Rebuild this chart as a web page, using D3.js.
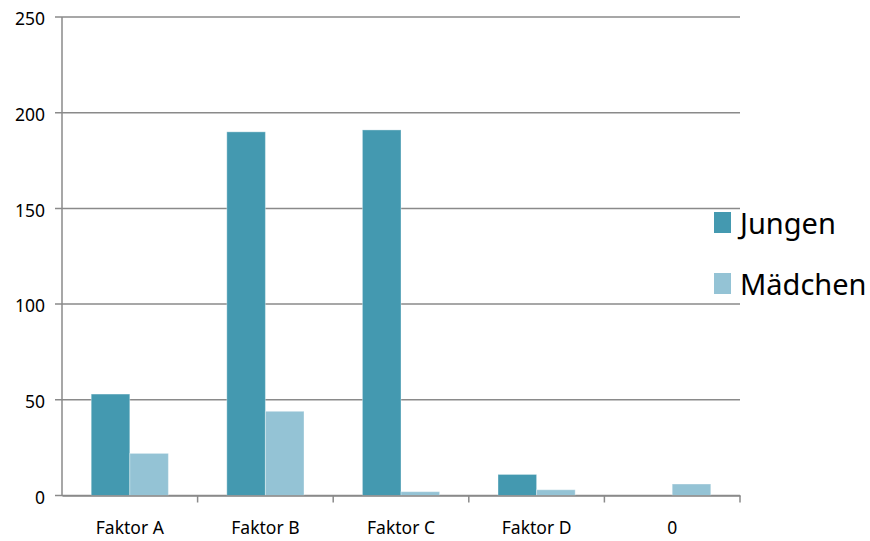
<!DOCTYPE html>
<html>
<head>
<meta charset="utf-8">
<script src="https://cdn.jsdelivr.net/npm/d3@7"></script>
<style>
	body { margin: 0; background: #fff; }
	svg { font-family: "Noto Sans", sans-serif; }
</style>
</head>
<body>
<div id="chart"></div>
<script>
const categories = ["Faktor A", "Faktor B", "Faktor C", "Faktor D", "0"];
const seriesNames = ["Jungen", "Mädchen"];
const jungen = [53, 190, 191, 11, 0];
const maedchen = [22, 44, 2, 3, 6];
const yTicks = [0, 50, 100, 150, 200, 250];

const colors = {Jungen: "#4499b0", "Mädchen": "#94c3d5"};

// container size
const margin = {
	top: 17, right: 130, bottom: 45.5, left: 62
};
const totalWidth = 870;
const totalHeight = 541;
const width = totalWidth - margin.left - margin.right;
const height = totalHeight - margin.top - margin.bottom;

const rows = categories.map((c, i) => ({name: c, Jungen: jungen[i], "Mädchen": maedchen[i]}));

/* eslint-disable indent */
const svg = d3.select("#chart")
	.append("svg")
		.attr("width", totalWidth)
		.attr("height", totalHeight)
	.append("g")
		.attr("transform", `translate(${margin.left},${margin.top})`);

// scales
const x0 = d3.scaleBand()
	.domain(categories)
	.range([0, width]);
const x1 = d3.scaleBand()
	.domain(seriesNames)
	.range([0, x0.bandwidth()])
	.paddingOuter(0.757);
const y = d3.scaleLinear()
	.domain([0, 250])
	.range([height, 0]);

// gridlines
svg.append("g")
	.selectAll("line")
	.data(yTicks)
	.join("line")
		.attr("x1", -7)
		.attr("x2", width)
		.attr("y1", d => y(d))
		.attr("y2", d => y(d))
		.attr("stroke", "#8a8a8a")
		.attr("stroke-width", 1.5);

// y axis line + labels
svg.append("line")
	.attr("x1", 0)
	.attr("x2", 0)
	.attr("y1", 0)
	.attr("y2", height)
	.attr("stroke", "#8a8a8a")
	.attr("stroke-width", 1.5);
svg.append("g")
	.selectAll("text")
	.data(yTicks)
	.join("text")
		.attr("x", -17)
		.attr("y", d => y(d) + 2)
		.attr("dy", "0.35em")
		.attr("text-anchor", "end")
		.attr("font-size", "17.5px")
		.attr("fill", "#000")
		.text(d => d);

// bars
svg.append("g")
	.selectAll("g")
	.data(rows)
	.join("g")
		.attr("transform", d => `translate(${x0(d.name)},0)`)
	.selectAll("rect")
	.data(d => seriesNames.map(k => ({key: k, value: d[k]})))
	.join("rect")
		.attr("x", d => x1(d.key))
		.attr("y", d => y(d.value))
		.attr("width", x1.bandwidth())
		.attr("height", d => height - y(d.value))
		.attr("fill", d => colors[d.key])
		.attr("stroke", "rgba(255,255,255,0.35)")
		.attr("stroke-width", 1);

// x axis
svg.append("g")
		.attr("transform", `translate(0,${height})`)
		.call(d3.axisBottom(x0).tickSize(0).tickPadding(26).tickSizeOuter(0))
		.call(g => g.select(".domain").attr("stroke", "#8a8a8a").attr("stroke-width", 1.5))
	.selectAll("text")
		.attr("font-size", "17.5px")
		.attr("font-family", "Noto Sans, sans-serif")
		.attr("fill", "#000");

// category separator ticks
svg.append("g")
	.selectAll("line")
	.data(categories.slice(1).concat([null]))
	.join("line")
		.attr("x1", d => d === null ? width : x0(d))
		.attr("x2", d => d === null ? width : x0(d))
		.attr("y1", height)
		.attr("y2", height + 7)
		.attr("stroke", "#8a8a8a")
		.attr("stroke-width", 1.5);

// legend
const legend = svg.append("g")
		.attr("transform", `translate(${714 - margin.left},${212 - margin.top})`)
	.selectAll("g")
	.data(seriesNames)
	.join("g")
		.attr("transform", (d, i) => `translate(0,${i * 61})`);
legend.append("rect")
	.attr("width", 17)
	.attr("height", 21)
	.attr("fill", d => colors[d]);
legend.append("text")
	.attr("x", 26)
	.attr("y", 22)
	.attr("font-size", "29px")
	.attr("fill", "#000")
	.text(d => d);
/* eslint-enable */
</script>
</body>
</html>
